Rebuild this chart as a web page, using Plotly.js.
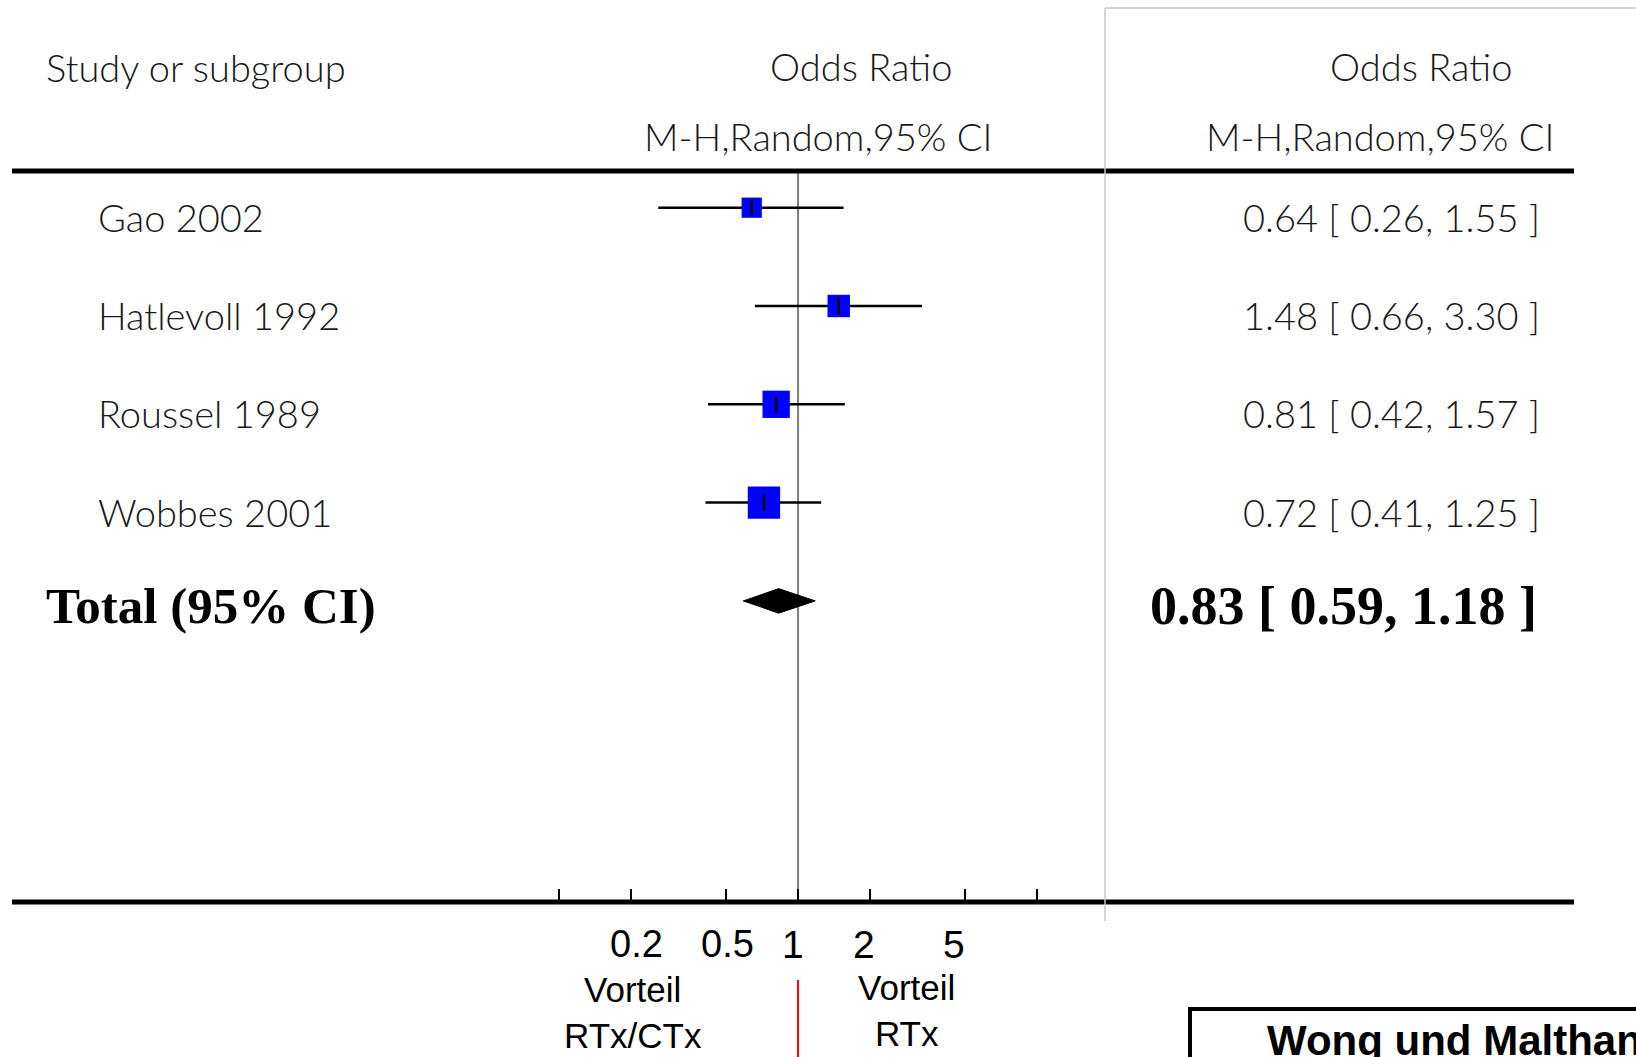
<!DOCTYPE html>
<html>
<head>
<meta charset="utf-8">
<script src="https://cdn.plot.ly/plotly-3.0.1.min.js"></script>
<style>
  html, body { margin: 0; padding: 0; background: #fff; }
  #chart { width: 1636px; height: 1057px; }
</style>
</head>
<body>
<div id="chart"></div>
<script>
// ---------------- data ----------------
const studies   = ["Gao 2002", "Hatlevoll 1992", "Roussel 1989", "Wobbes 2001"];
const oddsRatio = [0.64, 1.48, 0.81, 0.72];
const ciLower   = [0.26, 0.66, 0.42, 0.41];
const ciUpper   = [1.55, 3.30, 1.57, 1.25];
const weights   = [15.1, 18.6, 27.6, 38.7];   // % weight (box area)
const totalLabel = "Total (95% CI)";
const totalOR    = [0.83];
const totalLower = [0.59];
const totalUpper = [1.18];
const tickValues = [0.1, 0.2, 0.5, 1, 2, 5, 10];
const tickLabels = ["", "0.2", "0.5", "1", "2", "5", ""];
const headerLeft   = "Study or subgroup";
const headerTitle  = "Odds Ratio";
const headerMethod = "M-H,Random,95% CI";
const favourLeft   = "Vorteil<br>RTx/CTx";
const favourRight  = "Vorteil<br>RTx";
const sourceLabel  = "Wong und Malthaner";

// ---------------- helpers ----------------
const W = 1636, H = 1057;
const px = v => v / W;          // pixel -> paper x
const py = v => 1 - v / H;      // pixel -> paper y
const fmt = (e, l, u) => e.toFixed(2) + " [ " + l.toFixed(2) + ", " + u.toFixed(2) + " ]";
const rows = studies.map((_, i) => i);
const totalRow = studies.length;

const gill = "Lato, 'Open Sans', sans-serif";
const serif = "'Liberation Serif', 'DejaVu Serif', serif";
const arial = "'Liberation Sans', Arial, sans-serif";
const narrow = "'Liberation Sans Narrow', 'Liberation Sans', sans-serif";

// ---------------- traces ----------------
const ciX = [], ciY = [];
rows.forEach(i => { ciX.push(ciLower[i], ciUpper[i], null); ciY.push(i, i, null); });

const traces = [
  { type: "scatter", mode: "lines", x: ciX, y: ciY,
    line: { color: "#000", width: 2.5 }, hoverinfo: "skip", showlegend: false },
  { type: "scatter", mode: "markers", x: oddsRatio, y: rows,
    marker: { symbol: "square", color: "#0000ff", opacity: 1,
              size: weights.map(w => 5.2 * Math.sqrt(w)), line: { width: 0 } },
    hoverinfo: "skip", showlegend: false },
  { type: "scatter", mode: "markers", x: oddsRatio, y: rows,
    marker: { symbol: "line-ns", size: 12, color: "#000", opacity: 1, line: { color: "#000", width: 2.5 } },
    hoverinfo: "skip", showlegend: false },
  { type: "scatter", mode: "lines", fill: "toself", fillcolor: "#000",
    x: [totalLower[0], totalOR[0], totalUpper[0], totalOR[0], totalLower[0]],
    y: [totalRow, totalRow - 0.125, totalRow, totalRow + 0.125, totalRow],
    line: { color: "#000", width: 1 }, hoverinfo: "skip", showlegend: false }
];

// ---------------- annotations ----------------
const ann = [];
const txt = (text, x, y, opts) => Object.assign({
  text, x, y, xref: "paper", yref: "paper", showarrow: false,
  xanchor: "left", yanchor: "middle",
  font: { family: gill, size: 38, color: "#1a1a1a", weight: 300 }
}, opts || {});

ann.push(txt(headerLeft, px(44), py(67)));
ann.push(txt(headerTitle, px(861), py(66), { xanchor: "center" }));
ann.push(txt(headerMethod, px(818), py(136), { xanchor: "center" }));
ann.push(txt(headerTitle, px(1421), py(66), { xanchor: "center" }));
ann.push(txt(headerMethod, px(1380), py(136), { xanchor: "center" }));

rows.forEach(i => {
  ann.push(txt(studies[i], px(96), i, { yref: "y", yshift: -9 }));
  ann.push(txt(fmt(oddsRatio[i], ciLower[i], ciUpper[i]), px(1542), i,
               { yref: "y", yshift: -9, xanchor: "right" }));
});
ann.push(txt(totalLabel, px(44), totalRow,
  { yref: "y", yshift: -5, font: { family: serif, size: 51, color: "#000", weight: "bold" } }));
ann.push(txt(fmt(totalOR[0], totalLower[0], totalUpper[0]), px(1539), totalRow,
  { yref: "y", yshift: -5, xanchor: "right", font: { family: serif, size: 54, color: "#000", weight: "bold" } }));

// tick labels (mixed fonts as in the original)
const tickShift = { "0.2": 6, "0.5": 1, "1": -5, "2": -6, "5": -11 };
tickValues.forEach((v, k) => {
  const lab = tickLabels[k];
  if (!lab) return;
  const isNarrow = lab.indexOf(".") >= 0;
  ann.push({ text: lab, x: Math.log10(v), xref: "x", y: py(944), yref: "paper",
    showarrow: false, xanchor: "center", yanchor: "middle", xshift: tickShift[lab],
    font: { family: isNarrow ? narrow : arial, size: isNarrow ? 38 : 39, color: "#000",
            weight: isNarrow ? 300 : 400 } });
});

ann.push({ text: favourLeft, x: px(633), y: py(1012), xref: "paper", yref: "paper",
  showarrow: false, xanchor: "center", yanchor: "middle", align: "center",
  font: { family: arial, size: 35, color: "#000" } });
ann.push({ text: favourRight, x: px(906), y: py(1010), xref: "paper", yref: "paper",
  showarrow: false, xanchor: "center", yanchor: "middle", align: "center",
  font: { family: arial, size: 35, color: "#000" } });
ann.push({ text: sourceLabel, x: px(1265), y: py(1040), xref: "paper", yref: "paper",
  showarrow: false, xanchor: "left", yanchor: "middle",
  font: { family: arial, size: 42, color: "#000", weight: "bold" } });

// ---------------- shapes ----------------
const shapes = [
  // reference line at OR = 1
  { type: "line", xref: "x", yref: "paper", x0: 1, x1: 1, y0: py(172), y1: py(902),
    line: { color: "#808080", width: 2 }, layer: "below" },
  // header rule and bottom rule
  { type: "line", xref: "paper", yref: "paper", x0: px(12), x1: px(1574), y0: py(171), y1: py(171),
    line: { color: "#000", width: 5 } },
  { type: "line", xref: "paper", yref: "paper", x0: px(12), x1: px(1574), y0: py(902), y1: py(902),
    line: { color: "#000", width: 5 } },
  // right panel frame (light grey)
  { type: "line", xref: "paper", yref: "paper", x0: px(1105), x1: px(1105), y0: py(8), y1: py(921),
    line: { color: "#c8c8c8", width: 1.5 } },
  { type: "line", xref: "paper", yref: "paper", x0: px(1105), x1: px(1640), y0: py(8), y1: py(8),
    line: { color: "#c8c8c8", width: 1.5 } },
  // red divider under the axis
  { type: "line", xref: "x", yref: "paper", x0: 1, x1: 1, y0: py(980), y1: py(1060),
    line: { color: "#ff0000", width: 2 } },
  // source box
  { type: "rect", xref: "paper", yref: "paper", x0: px(1190), x1: px(1720), y0: py(1009), y1: py(1130),
    line: { color: "#000", width: 4 }, fillcolor: "rgba(0,0,0,0)" }
];

const layout = {
  width: W, height: H,
  margin: { l: 0, r: 0, t: 0, b: 0, pad: 0 },
  paper_bgcolor: "#fff", plot_bgcolor: "#fff",
  showlegend: false,
  xaxis: {
    type: "log", range: [-3.339, 3.506], domain: [0, 1],
    anchor: "free", position: 1 - 902 / H, side: "bottom",
    tickmode: "array", tickvals: tickValues, ticktext: tickLabels,
    showticklabels: false, ticks: "inside", ticklen: 13, tickwidth: 2, tickcolor: "#000",
    showgrid: false, zeroline: false, showline: false, fixedrange: true
  },
  yaxis: {
    range: [8.640, -2.113], autorange: false, domain: [0, 1],
    visible: false, showgrid: false, zeroline: false, fixedrange: true
  },
  shapes: shapes,
  annotations: ann
};

Plotly.newPlot("chart", traces, layout, { displayModeBar: false, staticPlot: true });
</script>
</body>
</html>
